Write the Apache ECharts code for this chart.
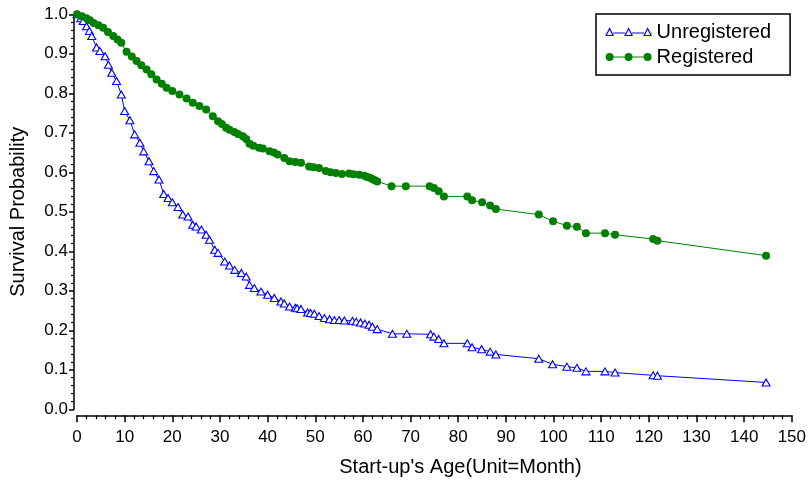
<!DOCTYPE html>
<html>
<head>
<meta charset="utf-8">
<script src="https://cdn.jsdelivr.net/npm/echarts@6/dist/echarts.min.js"></script>
<style>
html,body{margin:0;padding:0;background:#fff;}
#chart{width:809px;height:486px;}
</style>
</head>
<body>
<div id="chart"></div>
<script>
// ---- Data ----
var seriesNames = ['Unregistered', 'Registered'];

var unregMonths = [0, 0.8, 1.3, 2.0, 2.6, 3.1, 4.1, 4.8, 5.9, 6.6, 7.3, 8.3, 9.3, 10.0, 11.1, 12.1, 13.2, 14.0, 15.1, 16.1, 17.2, 18.2, 19.1, 20.0, 21.2, 22.2, 23.3, 24.3, 25.0, 26.1, 27.1, 27.8, 28.9, 29.6, 31.0, 32.0, 33.1, 34.5, 35.5, 36.2, 37.2, 38.6, 40.0, 41.4, 42.8, 43.5, 44.6, 45.8, 46.2, 47.0, 48.4, 49.0, 49.8, 50.8, 51.9, 53.0, 54.0, 55.0, 56.1, 57.8, 58.6, 59.5, 60.4, 61.3, 62.0, 63.0, 66.2, 69.2, 74.2, 74.9, 75.9, 77.0, 81.9, 82.9, 84.9, 86.7, 87.9, 96.9, 99.8, 102.8, 104.9, 106.8, 110.8, 112.9, 120.9, 121.8, 144.6];
var unregSurv = [1.000, 0.990, 0.983, 0.970, 0.958, 0.945, 0.916, 0.907, 0.894, 0.872, 0.852, 0.831, 0.797, 0.755, 0.732, 0.696, 0.675, 0.653, 0.628, 0.603, 0.582, 0.545, 0.535, 0.524, 0.512, 0.493, 0.488, 0.467, 0.463, 0.455, 0.442, 0.429, 0.404, 0.396, 0.374, 0.364, 0.353, 0.345, 0.336, 0.315, 0.307, 0.298, 0.290, 0.282, 0.273, 0.268, 0.260, 0.257, 0.256, 0.254, 0.245, 0.244, 0.242, 0.236, 0.231, 0.228, 0.226, 0.226, 0.225, 0.224, 0.222, 0.220, 0.217, 0.214, 0.209, 0.203, 0.191, 0.191, 0.190, 0.184, 0.178, 0.167, 0.167, 0.157, 0.152, 0.146, 0.139, 0.128, 0.114, 0.108, 0.105, 0.096, 0.096, 0.093, 0.086, 0.085, 0.068];

var regMonths = [0, 1, 2, 2.7, 3.5, 4.5, 5.5, 6.5, 7.6, 8.5, 9.3, 10.4, 11.5, 12.5, 13.5, 14.6, 15.6, 16.7, 17.8, 18.8, 20.0, 21.5, 23.0, 24.3, 25.7, 27.1, 28.5, 29.6, 30.4, 31.3, 32.0, 33.0, 33.8, 34.8, 35.5, 36.2, 37.0, 38.2, 39.0, 40.4, 41.3, 42.1, 43.5, 44.6, 45.8, 47.0, 48.7, 49.6, 50.8, 52.2, 53.2, 54.3, 55.6, 57.1, 58.0, 59.2, 60.3, 60.9, 61.5, 62.0, 62.5, 63.0, 66.0, 69.0, 74.0, 74.9, 75.9, 77.0, 81.9, 82.9, 85.0, 86.7, 87.9, 96.9, 99.9, 102.8, 104.9, 106.8, 110.8, 112.9, 120.9, 121.8, 144.6];
var regSurv = [1.000, 0.995, 0.990, 0.985, 0.978, 0.972, 0.966, 0.955, 0.945, 0.936, 0.928, 0.905, 0.893, 0.882, 0.871, 0.860, 0.848, 0.835, 0.824, 0.814, 0.806, 0.797, 0.787, 0.776, 0.768, 0.759, 0.742, 0.729, 0.722, 0.713, 0.708, 0.702, 0.697, 0.691, 0.684, 0.672, 0.667, 0.662, 0.660, 0.653, 0.650, 0.645, 0.636, 0.628, 0.626, 0.624, 0.615, 0.613, 0.611, 0.603, 0.600, 0.598, 0.596, 0.597, 0.595, 0.594, 0.591, 0.588, 0.586, 0.583, 0.580, 0.577, 0.565, 0.565, 0.565, 0.560, 0.552, 0.539, 0.539, 0.529, 0.524, 0.516, 0.507, 0.493, 0.476, 0.465, 0.462, 0.446, 0.446, 0.442, 0.431, 0.427, 0.389];

var xAxisTitle = "Start-up's Age(Unit=Month)";
var yAxisTitle = 'Survival Probability';

function pairs(xs, ys) {
  var out = [];
  for (var i = 0; i < xs.length; i++) out.push([xs[i], ys[i]]);
  return out;
}

var FONT = '"Liberation Sans", Arial, Helvetica, sans-serif';
var BLUE = '#0000ff';
var GREEN = '#008000';

var triIcon = 'path://M0 6H0.5M7.5 6H19.5M26.5 6H38.5M45.5 6H46M0.5 8.5L4 1.5L7.5 8.5ZM19.5 8.5L23 1.5L26.5 8.5ZM38.5 8.5L42 1.5L45.5 8.5Z';
var dotIcon = 'path://M8 4.5H19V5.5H8ZM27 4.5H38V5.5H27ZM0 5A4 4 0 1 0 8 5A4 4 0 1 0 0 5ZM19 5A4 4 0 1 0 27 5A4 4 0 1 0 19 5ZM38 5A4 4 0 1 0 46 5A4 4 0 1 0 38 5Z';

var chart = echarts.init(document.getElementById('chart'), null, {renderer: 'canvas'});
chart.setOption({
  animation: false,
  backgroundColor: '#fff',
  grid: {left: 77, right: 15, top: 14.3, bottom: 76.7, containLabel: false},
  legend: {
    orient: 'vertical',
    left: 596,
    top: 14,
    itemWidth: 46,
    itemHeight: 10,
    itemGap: 5,
    padding: [8, 19, 8, 9],
    borderColor: '#000',
    borderWidth: 1.5,
    backgroundColor: '#fff',
    symbolKeepAspect: true,
    textStyle: {fontSize: 20, color: '#000', fontFamily: FONT},
    data: [
      {name: seriesNames[0], icon: triIcon, itemStyle: {color: '#fff', borderColor: BLUE, borderWidth: 1.2}},
      {name: seriesNames[1], icon: dotIcon, itemStyle: {color: GREEN, borderWidth: 0}}
    ]
  },
  xAxis: {
    type: 'value',
    min: 0, max: 150, interval: 10,
    offset: 6,
    name: xAxisTitle,
    nameLocation: 'middle',
    nameGap: 42,
    nameTextStyle: {fontSize: 20, color: '#000', fontFamily: FONT, padding: [0, 0, 0, 52]},
    axisLine: {show: true, onZero: false, lineStyle: {color: '#000', width: 1.5}},
    axisTick: {show: true, length: 7, lineStyle: {color: '#000', width: 1.5}},
    minorTick: {show: true, splitNumber: 5, length: 4, lineStyle: {color: '#000', width: 1.2}},
    axisLabel: {fontSize: 17, color: '#000', fontFamily: FONT, margin: 14},
    splitLine: {show: false}
  },
  yAxis: {
    type: 'value',
    min: 0, max: 1, interval: 0.1,
    offset: 3,
    name: yAxisTitle,
    nameLocation: 'middle',
    nameGap: 46,
    nameRotate: 90,
    nameTextStyle: {fontSize: 20, color: '#000', fontFamily: FONT},
    axisLine: {show: true, onZero: false, lineStyle: {color: '#000', width: 1.5}},
    axisTick: {show: true, length: 5, lineStyle: {color: '#000', width: 1.5}},
    minorTick: {show: true, splitNumber: 5, length: 3, lineStyle: {color: '#000', width: 1.2}},
    axisLabel: {fontSize: 17, color: '#000', fontFamily: FONT, margin: 6,
      formatter: function (v) { return v.toFixed(1); }},
    splitLine: {show: false}
  },
  series: [
    {
      name: seriesNames[0],
      type: 'line',
      data: pairs(unregMonths, unregSurv),
      symbol: 'triangle',
      symbolSize: [8, 7],
      showSymbol: true,
      showAllSymbol: true,
      clip: false,
      lineStyle: {color: BLUE, width: 1},
      itemStyle: {color: '#fff', borderColor: BLUE, borderWidth: 1.1},
      emphasis: {disabled: true}
    },
    {
      name: seriesNames[1],
      type: 'line',
      data: pairs(regMonths, regSurv),
      symbol: 'circle',
      symbolSize: 8,
      showSymbol: true,
      showAllSymbol: true,
      clip: false,
      lineStyle: {color: GREEN, width: 1},
      itemStyle: {color: GREEN, borderWidth: 0},
      emphasis: {disabled: true}
    }
  ]
});
</script>
</body>
</html>
